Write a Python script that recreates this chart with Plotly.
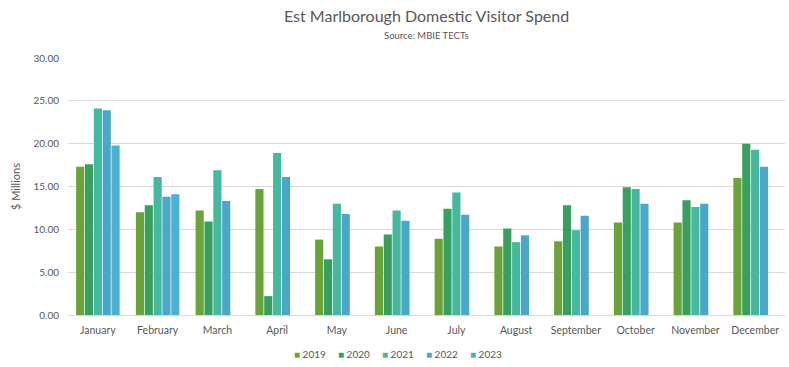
import plotly.graph_objects as go

months = ["January", "February", "March", "April", "May", "June",
          "July", "August", "September", "October", "November", "December"]

spend_2019 = [17.3, 12.0, 12.2, 14.7, 8.8, 8.0, 8.9, 8.0, 8.6, 10.8, 10.8, 16.0]
spend_2020 = [17.6, 12.8, 10.9, 2.2, 6.5, 9.4, 12.4, 10.1, 12.8, 14.9, 13.4, 20.0]
spend_2021 = [24.1, 16.1, 16.9, 18.9, 13.0, 12.2, 14.3, 8.5, 9.9, 14.7, 12.6, 19.3]
spend_2022 = [23.9, 13.8, 13.3, 16.1, 11.8, 11.0, 11.7, 9.3, 11.6, 13.0, 13.0, 17.3]
spend_2023 = [19.8, 14.1, None, None, None, None, None, None, None, None, None, None]

series = [
    ("2019", spend_2019, "#6aa338"),
    ("2020", spend_2020, "#37a060"),
    ("2021", spend_2021, "#45b9a0"),
    ("2022", spend_2022, "#49a7c9"),
    ("2023", spend_2023, "#4bb1d2"),
]

W, H = 789, 367
text_color = "#595959"

fig = go.Figure()
for name, vals, color in series:
    fig.add_trace(go.Bar(x=months, y=vals, name=name, marker_color=color,
                         marker_line_width=0, showlegend=False))

annotations = [
    dict(text="Est Marlborough Domestic Visitor Spend", xref="paper", yref="paper",
         x=0.5, y=1 + (58 - 16) / (H - 58 - 52), xanchor="center", yanchor="middle",
         showarrow=False, font=dict(size=16, color=text_color)),
    dict(text="Source: MBIE TECTs", xref="paper", yref="paper",
         x=0.5, y=1 + (58 - 35) / (H - 58 - 52), xanchor="center", yanchor="middle",
         showarrow=False, font=dict(size=9.5, color=text_color)),
]

# Compact legend row beneath the month labels
plot_w = W - 68 - 4
start_px = 292
step_px = 44
for i, (name, _, color) in enumerate(series):
    xp = start_px + i * step_px
    annotations.append(dict(
        text=f"<span style='color:{color}'>■</span> {name}",
        xref="paper", yref="paper",
        x=(xp - 68) / plot_w, y=-(354 - 315) / (H - 58 - 52),
        xanchor="left", yanchor="middle", showarrow=False,
        font=dict(size=10, color=text_color)))

fig.update_layout(
    width=W, height=H,
    margin=dict(l=68, r=4, t=58, b=52, autoexpand=False),
    paper_bgcolor="white", plot_bgcolor="white",
    font=dict(family="Lato, sans-serif", color=text_color, size=10),
    barmode="group", bargap=0.26, bargroupgap=0.08,
    annotations=annotations,
    showlegend=False,
)
fig.update_yaxes(range=[0, 30], dtick=5, tickformat=".2f", gridcolor="#d9d9d9",
                 gridwidth=1, zeroline=False, showline=False, ticks="",
                 ticklabelstandoff=8, automargin=False,
                 title=dict(text="$ Millions", font=dict(size=11, color=text_color),
                            standoff=10))
fig.update_xaxes(showline=True, linecolor="#d9d9d9", linewidth=1, ticks="",
                 automargin=False, ticklabelstandoff=5,
                 tickfont=dict(size=10.5, color=text_color))

fig.write_html("out.html")
